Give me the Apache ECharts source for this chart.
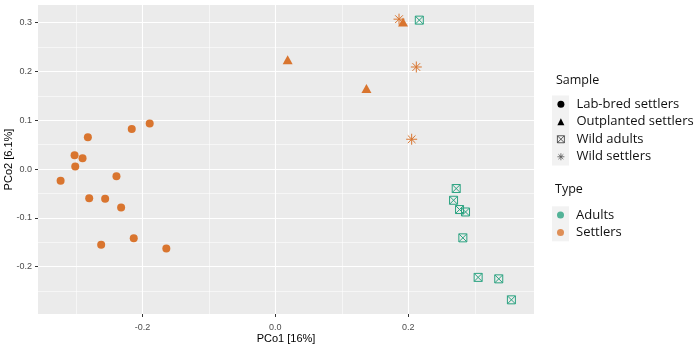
<!DOCTYPE html>
<html>
<head>
<meta charset="utf-8">
<script src="https://cdn.jsdelivr.net/npm/echarts@6/dist/echarts.min.js"></script>
<style>
html,body{margin:0;padding:0;background:#fff;}
#chart{width:698px;height:348px;}
</style>
</head>
<body>
<div id="chart"></div>
<script>
// ---- data ----
const labBred = [[-0.323,-0.024],[-0.302,0.028],[-0.301,0.005],[-0.290,0.022],[-0.282,0.065],[-0.280,-0.060],[-0.256,-0.061],[-0.239,-0.015],[-0.232,-0.079],[-0.262,-0.155],[-0.216,0.082],[-0.189,0.093],[-0.213,-0.142],[-0.164,-0.163]];
const outplanted = [[0.0185,0.224],[0.137,0.165],[0.192,0.301]];
const wildAdults = [[0.2165,0.305],[0.272,-0.040],[0.268,-0.064],[0.277,-0.083],[0.286,-0.088],[0.282,-0.141],[0.305,-0.222],[0.336,-0.225],[0.355,-0.268]];
const wildSettlers = [[0.186,0.307],[0.212,0.209],[0.205,0.061]];

const sampleNames = ['Lab-bred settlers','Outplanted settlers','Wild adults','Wild settlers'];
const typeNames = ['Adults','Settlers'];

const xMajor = [-0.2, 0, 0.2];
const xMinor = [-0.3, -0.1, 0.1, 0.3];
const yMajor = [-0.2, -0.1, 0, 0.1, 0.2, 0.3];
const yMinor = [-0.25, -0.15, -0.05, 0.05, 0.15, 0.25];
const xRange = [-0.357, 0.389];
const yRange = [-0.297, 0.336];

const TEAL = '#2BA381';
const ORANGE = '#D9752F';
const SQX = 'path://M0,0H10V10H0Z M0,0L10,10 M10,0L0,10';
const AST = 'path://M5,0L5,10 M0,5L10,5 M1.5,1.5L8.5,8.5 M8.5,1.5L1.5,8.5';

const chart = echarts.init(document.getElementById('chart'), null, {renderer:'canvas'});

const tickFont = {color:'#4D4D4D', fontSize:9, fontFamily:'Liberation Sans'};
const nameFont = {color:'#000', fontSize:11, fontFamily:'Liberation Sans'};
const legendFont = {color:'#111', fontSize:13, fontFamily:'Open Sans', lineHeight:17.5, padding:[0,0,0,7]};

function majorAxis(range, ticks, extra) {
  return Object.assign({
    type:'value', min:range[0], max:range[1],
    axisLine:{show:false, onZero:false},
    axisTick:{show:true, length:3, lineStyle:{color:'#333', width:1}, customValues:ticks},
    axisLabel:Object.assign({customValues:ticks, margin:6, formatter:v=>v.toFixed(1)}, tickFont),
    splitLine:{show:true, lineStyle:{color:'#fff', width:1.1}}
  }, extra);
}
function minorAxis(range, ticks) {
  return {
    type:'value', min:range[0], max:range[1],
    axisLine:{show:false, onZero:false},
    axisTick:{show:false, customValues:ticks},
    axisLabel:{show:false, customValues:ticks},
    splitLine:{show:true, lineStyle:{color:'#fff', width:0.55}}
  };
}

const xMain = majorAxis(xRange, xMajor, {position:'bottom', name:'PCo1 [16%]', nameLocation:'middle', nameGap:19.5, nameMoveOverlap:false, nameTextStyle:nameFont});
xMain.axisLabel.margin = 9;
const yMain = majorAxis(yRange, yMajor, {position:'left', name:'PCo2 [6.1%]', nameLocation:'middle', nameGap:24, nameMoveOverlap:false, nameTextStyle:nameFont});

const option = {
  animation:false,
  backgroundColor:'#fff',
  grid:{left:38, right:164, top:5, bottom:34, containLabel:false, outerBoundsMode:'none',
        show:true, backgroundColor:'#EBEBEB', borderWidth:0},
  xAxis:[xMain, minorAxis(xRange, xMinor)],
  yAxis:[yMain, minorAxis(yRange, yMinor)],
  legend:[
    {
      orient:'vertical', left:557, top:95.5, padding:0, itemGap:0,
      itemWidth:7, itemHeight:7, selectedMode:false, textStyle:legendFont,
      data:[
        {name:sampleNames[0], icon:'circle', itemStyle:{color:'#000', borderWidth:0}},
        {name:sampleNames[1], icon:'triangle', itemStyle:{color:'#000', borderWidth:0}},
        {name:sampleNames[2], icon:SQX, itemStyle:{color:'transparent', borderColor:'#333', borderWidth:0.8}},
        {name:sampleNames[3], icon:AST, itemStyle:{color:'transparent', borderColor:'#555', borderWidth:0.8}}
      ]
    },
    {
      orient:'vertical', left:557, top:206.3, padding:0, itemGap:0,
      itemWidth:7, itemHeight:7, selectedMode:false, textStyle:legendFont,
      data:[
        {name:typeNames[0], icon:'circle', itemStyle:{color:TEAL, borderWidth:0}},
        {name:typeNames[1], icon:'circle', itemStyle:{color:ORANGE, borderWidth:0}}
      ]
    }
  ],
  graphic:[
    {type:'rect', left:552, top:95.5, shape:{width:17, height:70}, style:{fill:'#F2F2F2'}, z:0},
    {type:'rect', left:552, top:206.3, shape:{width:17, height:35}, style:{fill:'#F2F2F2'}, z:0},
    {type:'text', left:556, top:74, style:{text:'Sample', fontSize:12.5, fontFamily:'Open Sans', fill:'#111'}},
    {type:'text', left:555, top:183, style:{text:'Type', fontSize:12.5, fontFamily:'Open Sans', fill:'#111'}}
  ],
  series:[
    {name:sampleNames[0], type:'scatter', data:labBred, symbol:'circle', symbolSize:8,
      itemStyle:{color:ORANGE, opacity:1}, z:2},
    {name:sampleNames[1], type:'scatter', data:outplanted, symbol:'triangle', symbolSize:[10,9],
      itemStyle:{color:ORANGE, opacity:1}, z:4},
    {name:sampleNames[2], type:'scatter', data:wildAdults, symbol:SQX, symbolSize:8,
      itemStyle:{color:'transparent', borderColor:TEAL, borderWidth:1, opacity:1}, z:2},
    {name:sampleNames[3], type:'scatter', data:wildSettlers, symbol:AST, symbolSize:11,
      itemStyle:{color:'transparent', borderColor:ORANGE, borderWidth:1, opacity:1}, z:3},
    {name:typeNames[0], type:'scatter', data:[], itemStyle:{color:TEAL}},
    {name:typeNames[1], type:'scatter', data:[], itemStyle:{color:ORANGE}}
  ]
};
chart.setOption(option);
</script>
</body>
</html>
